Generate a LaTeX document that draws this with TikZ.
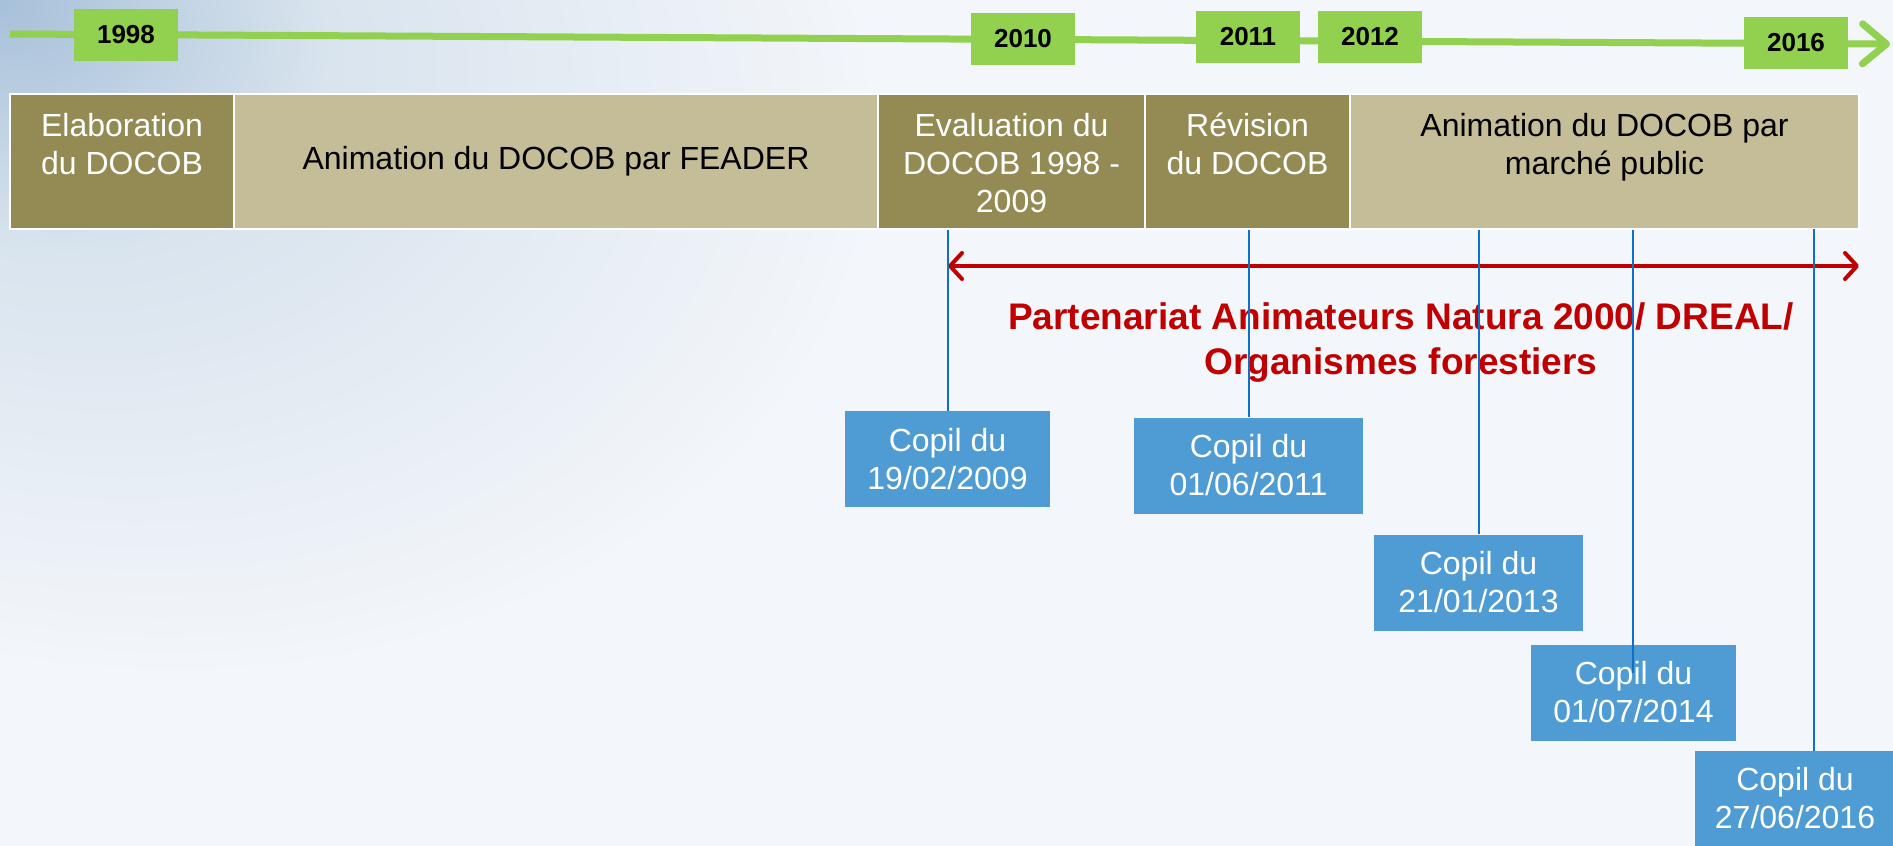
\documentclass[tikz,border=0pt]{standalone}
\usepackage{fontspec}
\setmainfont{Liberation Sans}
\usetikzlibrary{positioning,arrows.meta}

\definecolor{olivedark}{HTML}{948A54}
\definecolor{olivelight}{HTML}{C4BD97}
\definecolor{yeargreen}{HTML}{92D050}
\definecolor{copilblue}{HTML}{4F9BD3}
\definecolor{linkblue}{HTML}{0F6FC6}
\definecolor{partred}{HTML}{C00000}
\definecolor{bgleft}{HTML}{A7C0D9}
\definecolor{bgmid}{HTML}{D9E4EE}
\definecolor{bgbase}{HTML}{F3F6FA}

\pgfdeclareradialshading{skycorner}{\pgfpoint{-25bp}{25bp}}{color(0bp)=(bgleft); color(12bp)=(bgmid); color(32bp)=(bgbase); color(100bp)=(bgbase)}

\tikzset{
  yearbox/.style={fill=yeargreen, minimum width=104pt, minimum height=52pt, inner sep=0pt,
    font=\fontsize{26}{30}\selectfont\bfseries},
  stagebox/.style={fill=#1, draw=white, line width=2pt, minimum height=135pt, inner sep=0pt},
  stagetext/.style={align=center, inner sep=0pt, font=\fontsize{32}{38}\selectfont},
  copilbox/.style={fill=copilblue, text=white, align=center, minimum height=96pt, inner sep=0pt,
    font=\fontsize{32}{38}\selectfont},
  copilline/.style={linkblue, line width=2pt},
}

\begin{document}
\begin{tikzpicture}[x=1pt,y=-1pt]
\useasboundingbox (0,0) rectangle (1893,846);
\fill[bgbase] (0,0) rectangle (1893,846);
\shade[shading=skycorner] (0,0) rectangle (1100,846);

% axe des annees
\coordinate (axstart) at (10,34);
\coordinate (axend) at (1890,44);
\draw[yeargreen, line width=7pt, -{Straight Barb[length=24pt,width=40pt,round]}] (axstart) -- (axend);

\foreach \yr/\x/\y in {1998/126/35, 2010/1023/39, 2011/1248/37, 2012/1370/37, 2016/1796/43} {
        \node[yearbox] (y\yr) at (\x,\y) {\yr};
 }

% phases du DOCOB
\node[stagebox=olivedark, minimum width=224pt] (elab) at (122,161.5) {};
\node[stagebox=olivelight, minimum width=644pt, stagetext] (feader) at (556,161.5) {Animation du DOCOB par FEADER};
\node[stagebox=olivedark, minimum width=267pt] (eval) at (1011.5,161.5) {};
\node[stagebox=olivedark, minimum width=205pt] (revis) at (1247.5,161.5) {};
\node[stagebox=olivelight, minimum width=509pt] (marche) at (1604.5,161.5) {};

\node[stagetext, text=white, below=20pt of elab.north] (elabt) {Elaboration\\du DOCOB};
\node[stagetext, text=white, below=20pt of eval.north] (evalt) {Evaluation du\\DOCOB 1998 -\\2009};
\node[stagetext, text=white, below=20pt of revis.north] (revist) {Révision\\du DOCOB};
\node[stagetext, below=20pt of marche.north] (marchet) {Animation du DOCOB par\\marché public};

% partenariat
\coordinate (pleft) at (948,266);
\coordinate (pright) at (1859,266);
\draw[partred, line width=4pt, {Straight Barb[length=12pt,width=26pt,round]}-{Straight Barb[length=12pt,width=26pt,round]}] (pleft) -- (pright);
\node[partred, align=center, inner sep=0pt, anchor=north, font=\fontsize{37}{45}\selectfont\bfseries] (parttext) at (1401,302)
  {Partenariat Animateurs Natura 2000/ DREAL/\\Organismes forestiers};

% copils
\node[copilbox, minimum width=205pt] (c2009) at (947.5,459) {Copil du\\19/02/2009};
\node[copilbox, minimum width=229pt] (c2011) at (1248.5,465.5) {Copil du\\01/06/2011};
\node[copilbox, minimum width=209pt] (c2013) at (1478.5,582.5) {Copil du\\21/01/2013};
\node[copilbox, minimum width=205pt] (c2014) at (1633.5,692.5) {Copil du\\01/07/2014};
\node[copilbox, minimum width=200pt, minimum height=95pt] (c2016) at (1795,798.5) {Copil du\\27/06/2016};

\draw[copilline] (eval.south -| c2009.north) -- (c2009.north);
\draw[copilline] (revis.south -| c2011.north) -- (c2011.north);
\draw[copilline] (marche.south -| c2013.north) -- (c2013.north);
\coordinate (k2014) at (1633,673);
\draw[copilline] (marche.south -| k2014) -- (k2014);
\coordinate (k2016) at (1814,229);
\draw[copilline] (k2016) -- (k2016 |- c2016.north);

\end{tikzpicture}
\end{document}
